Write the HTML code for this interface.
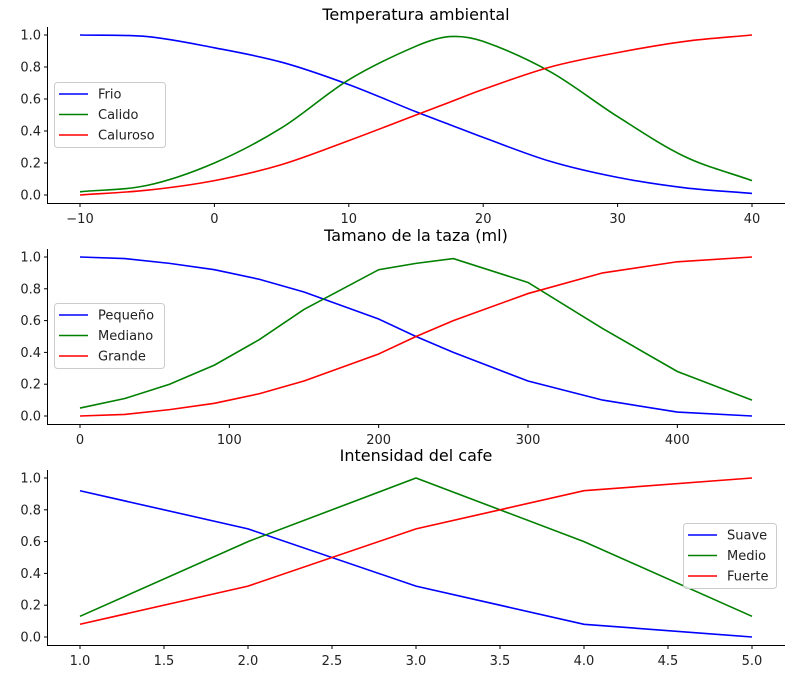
<!DOCTYPE html>
<html><head><meta charset="utf-8"><style>
body{margin:0;background:#fff}
svg{display:block;font-family:"DejaVu Sans","Liberation Sans",sans-serif}
</style></head><body>
<svg id="c" width="800" height="674" xmlns="http://www.w3.org/2000/svg"></svg>
<script>
// Panel 1: Temperatura ambiental
const p1x = [-10,-5,0,5,10,15,17.5,20,25,30,35,40];
const p1Frio = [1.0,0.99,0.92,0.83,0.69,0.52,0.44,0.36,0.21,0.11,0.045,0.01];
const p1Calido = [0.02,0.06,0.2,0.42,0.72,0.93,0.99,0.96,0.77,0.49,0.24,0.09];
const p1Caluroso = [0.0,0.03,0.09,0.19,0.34,0.50,0.58,0.66,0.80,0.89,0.96,1.0];
const p1Ticks = [-10,0,10,20,30,40];
// Panel 2: Tamano de la taza
const p2x = [0,30,60,90,120,150,200,225,250,300,350,400,450];
const p2Peq = [1.0,0.99,0.96,0.92,0.86,0.78,0.61,0.5,0.4,0.22,0.1,0.025,0.0];
const p2Med = [0.05,0.11,0.2,0.32,0.48,0.67,0.92,0.96,0.99,0.84,0.55,0.28,0.1];
const p2Gra = [0.0,0.01,0.04,0.08,0.14,0.22,0.39,0.5,0.6,0.77,0.9,0.97,1.0];
const p2Ticks = [0,100,200,300,400];
// Panel 3: Intensidad del cafe
const p3x = [1,2,3,4,5];
const p3Suave = [0.92,0.68,0.32,0.08,0.0];
const p3Medio = [0.13,0.6,1.0,0.6,0.13];
const p3Fuerte = [0.08,0.32,0.68,0.92,1.0];
const p3Ticks = [1.0,1.5,2.0,2.5,3.0,3.5,4.0,4.5,5.0];
const yTicks = [0.0,0.2,0.4,0.6,0.8,1.0];

const NS="http://www.w3.org/2000/svg";
const svg=document.getElementById('c');
function mk(tag,attrs,parent){const e=document.createElementNS(NS,tag);for(const k in attrs)e.setAttribute(k,attrs[k]);(parent||svg).appendChild(e);return e;}
function smoothPath(pts){
  let d=`M${pts[0][0]},${pts[0][1]}`;
  for(let i=0;i<pts.length-1;i++){
    const p0=pts[i-1]||pts[i],p1=pts[i],p2=pts[i+1],p3=pts[i+2]||p2;
    const h=p2[0]-p1[0];
    const s1=(p2[1]-p0[1])/(p2[0]-p0[0]||1), s2=(p3[1]-p1[1])/(p3[0]-p1[0]||1);
    const c1=[p1[0]+h/3,p1[1]+s1*h/3];
    const c2=[p2[0]-h/3,p2[1]-s2*h/3];
    d+=` C${c1[0]},${c1[1]} ${c2[0]},${c2[1]} ${p2[0]},${p2[1]}`;
  }
  return d;
}
function panel(cfg){
  const g=mk('g',{});
  
  
  const X=v=>80+(v-cfg.x0)/(cfg.x1-cfg.x0)*672;
  const Y=v=>cfg.y0-v*(cfg.y0-cfg.y1);
  const t=mk('text',{x:416,y:cfg.titleY,'text-anchor':'middle','font-size':16,fill:'#000'},g);
  t.textContent=cfg.title;
  
  
  const ax=mk('path',{d:`M47.5,${cfg.top} V${cfg.bot}.5 H785`,stroke:'#000','stroke-width':1,fill:'none'},g);
  
  
  yTicks.forEach(v=>{
    const y=Y(v);
    mk('line',{x1:44,x2:47.5,y1:y,y2:y,stroke:'#000'},g);
    const l=mk('text',{x:41,y:y+4.5,'text-anchor':'end','font-size':13,fill:'#222'},g);
    l.textContent=v.toFixed(1);
    
    
  });
  cfg.ticks.forEach(v=>{
    const x=X(v);
    mk('line',{x1:x,x2:x,y1:cfg.bot+0.5,y2:cfg.bot+4,stroke:'#000'},g);
    const l=mk('text',{x:x,y:cfg.bot+20,'text-anchor':'middle','font-size':13,fill:'#222'},g);
    l.textContent=(v<0?'\u2212'+(-v):(cfg.dec?v.toFixed(1):String(v)));
    
    
  });
  const cols=['#0000ff','#008000','#ff0000'];
  cfg.series.forEach((s,i)=>{
    const pts=cfg.xs.map((x,j)=>[X(x),Y(s[j])]);
    const d=cfg.smooth?smoothPath(pts):'M'+pts.map(p=>p.join(',')).join(' L');
    const p=mk('path',{d:d,stroke:cols[i],'stroke-width':1.6,fill:'none'},g);
    
    
  });
  const lg=mk('g',{},g);
  
  
  mk('rect',{x:cfg.lx+0.5,y:cfg.ly+0.5,width:cfg.lw,height:65,rx:3,fill:'#fff','fill-opacity':0.8,stroke:'#ccc'},lg);
  cfg.labels.forEach((lab,i)=>{
    const y=cfg.ly+12+i*20.5;
    mk('line',{x1:cfg.lx+5,x2:cfg.lx+34,y1:y,y2:y,stroke:cols[i],'stroke-width':1.6},lg);
    const tx=mk('text',{x:cfg.lx+44,y:y+4.5,'font-size':13,fill:'#222'},lg);
    tx.textContent=lab;
    
    
  });
}
panel({name:'panel-temperatura',title:'Temperatura ambiental',titleY:20,top:27,bot:203,y0:195,y1:35,x0:-10,x1:40,
  xs:p1x,series:[p1Frio,p1Calido,p1Caluroso],labels:['Frio','Calido','Caluroso'],ticks:p1Ticks,smooth:true,lx:54,ly:82,lw:111});
panel({name:'panel-taza',title:'Tamano de la taza (ml)',titleY:241,top:249,bot:424,y0:416,y1:257,x0:0,x1:450,
  xs:p2x,series:[p2Peq,p2Med,p2Gra],labels:['Pequeño','Mediano','Grande'],ticks:p2Ticks,smooth:false,lx:54,ly:303,lw:110});
panel({name:'panel-intensidad',title:'Intensidad del cafe',titleY:461,top:470,bot:645,y0:637,y1:478,x0:1,x1:5,
  xs:p3x,series:[p3Suave,p3Medio,p3Fuerte],labels:['Suave','Medio','Fuerte'],ticks:p3Ticks,smooth:false,dec:true,lx:683,ly:523,lw:93});
</script>
</body></html>
